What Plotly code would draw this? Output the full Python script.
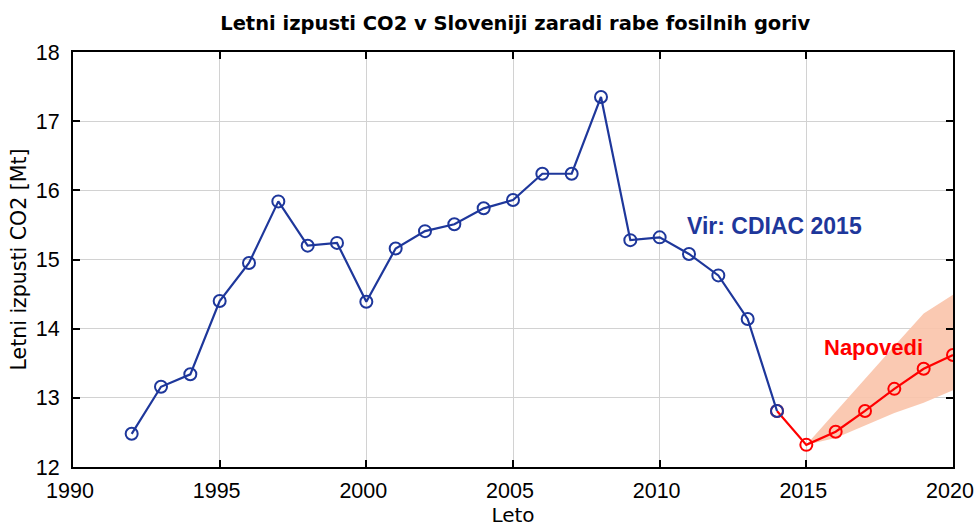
import plotly.graph_objects as go

years_hist = list(range(1992, 2015))
co2_hist = [12.48, 13.16, 13.34, 14.40, 14.95, 15.84, 15.20, 15.24, 14.39, 15.16,
            15.41, 15.51, 15.74, 15.86, 16.24, 16.24, 17.35, 15.28, 15.32, 15.08,
            14.77, 14.14, 12.81]
years_fc = [2014, 2015, 2016, 2017, 2018, 2019, 2020]
co2_fc = [12.81, 12.32, 12.51, 12.81, 13.13, 13.42, 13.62]
band_years = [2015, 2016, 2017, 2018, 2019, 2020]
band_upper = [12.32, 12.80, 13.28, 13.75, 14.22, 14.49]
band_lower = [12.32, 12.42, 12.60, 12.78, 12.93, 13.11]

blue = "rgb(30,55,155)"
red = "rgb(255,0,0)"
FONT = "DejaVu Sans"
AFONT = "Liberation Sans, Arial"

fig = go.Figure()
fig.add_trace(go.Scatter(x=band_years + band_years[::-1], y=band_upper + band_lower[::-1],
                         fill="toself", fillcolor="rgba(250,195,170,0.9)",
                         line=dict(width=0), mode="lines", hoverinfo="skip", showlegend=False))
fig.add_trace(go.Scatter(x=years_fc, y=co2_fc, mode="lines+markers",
                         line=dict(color=red, width=2.2),
                         marker=dict(symbol="circle-open", size=12, color=red, line=dict(width=2)),
                         showlegend=False))
fig.add_trace(go.Scatter(x=years_hist, y=co2_hist, mode="lines+markers",
                         line=dict(color=blue, width=2.2),
                         marker=dict(symbol="circle-open", size=12, color=blue, line=dict(width=2)),
                         showlegend=False))

fig.add_annotation(x=2013.9, y=15.48, text="<b>Vir: CDIAC 2015</b>", showarrow=False,
                   font=dict(color=blue, size=23, family=AFONT))
fig.add_annotation(x=2017.3, y=13.73, text="<b>Napovedi</b>", showarrow=False,
                   font=dict(color=red, size=22, family=AFONT))

axis_common = dict(showline=True, linecolor="black", linewidth=2, mirror="ticks",
                   ticks="inside", ticklen=7, tickwidth=2, tickcolor="black",
                   showgrid=True, gridcolor="rgb(210,210,210)", gridwidth=1,
                   zeroline=False, automargin=False, ticklabeloverflow="allow",
                   tickfont=dict(size=21.5, color="black", family=AFONT))

fig.update_layout(
    width=974, height=527,
    margin=dict(l=73, r=21, t=52, b=60),
    paper_bgcolor="white", plot_bgcolor="white",
    font=dict(family=FONT, color="black"),
    title=dict(text="<b>Letni izpusti CO2 v Sloveniji zaradi rabe fosilnih goriv</b>",
               x=0.529, xanchor="center", y=0.956, yanchor="middle", automargin=False,
               font=dict(size=19.5, color="black", family=FONT)),
    xaxis=dict(range=[1990, 2020], tickvals=[1990, 1995, 2000, 2005, 2010, 2015, 2020],
               ticklabelstandoff=3, ticklabelshift=-3,
               title=dict(text="Leto", font=dict(size=20, family=FONT), standoff=8), **axis_common),
    yaxis=dict(range=[12, 18], tickvals=[12, 13, 14, 15, 16, 17, 18],
               ticklabelstandoff=7,
               title=dict(text="Letni izpusti CO2 [Mt]", font=dict(size=20.5, family=FONT), standoff=4),
               **axis_common),
)

fig.write_html("out.html", config={"displayModeBar": False},
               post_script="document.body.style.margin='0';")
